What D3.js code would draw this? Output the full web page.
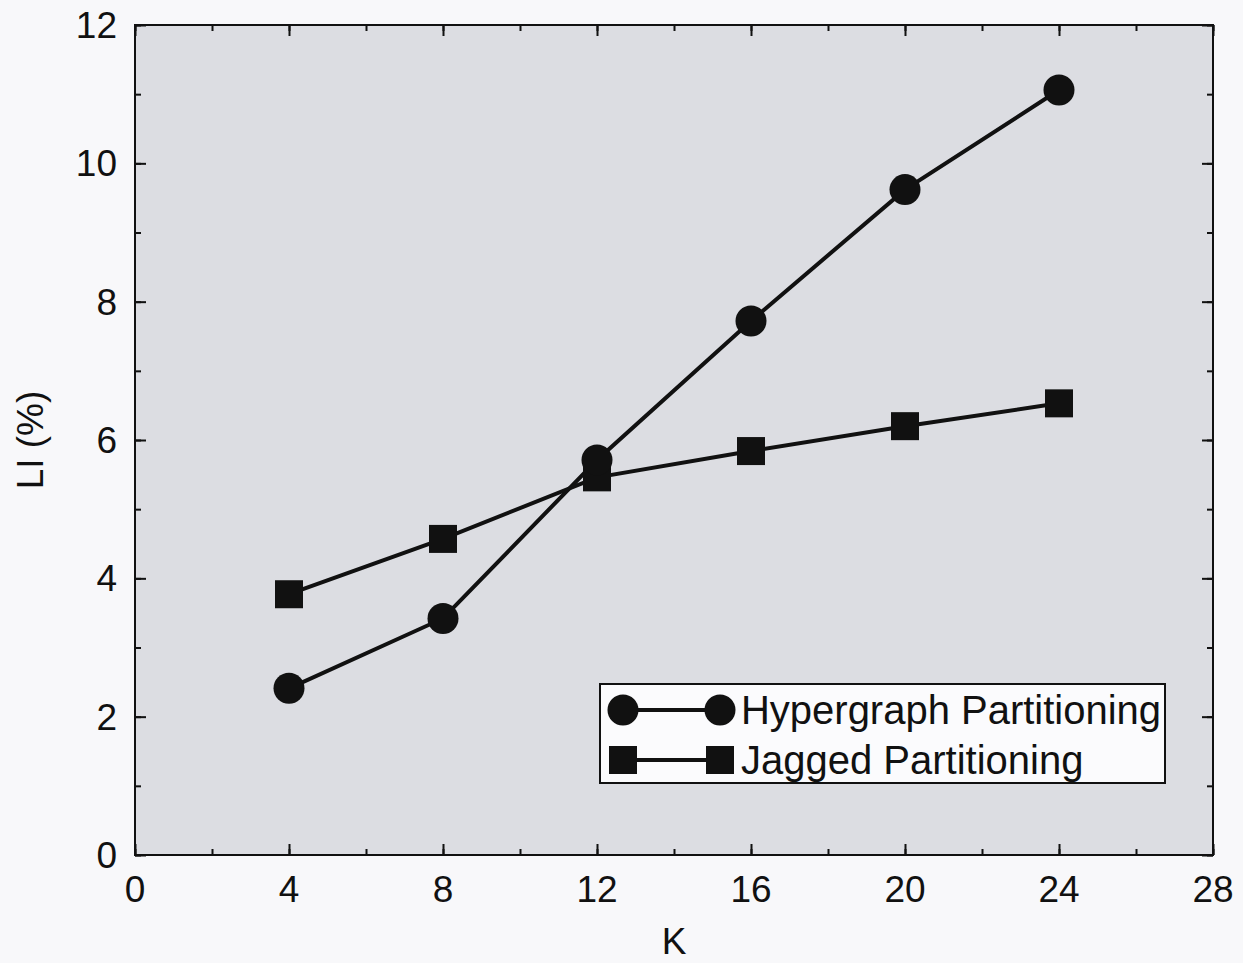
<!DOCTYPE html>
<html>
<head>
<meta charset="utf-8">
<script src="https://cdn.jsdelivr.net/npm/d3@7"></script>
<style>
  body { margin: 0; background: #f8f8fa; }
  text { font-family: "Liberation Sans", Arial, sans-serif; fill: #111; }
</style>
</head>
<body>
<div id="vis"></div>
<script>
const kValues = [4, 8, 12, 16, 20, 24]
const hypergraph = [2.41, 3.42, 5.71, 7.72, 9.62, 11.06]
const jagged = [3.77, 4.57, 5.46, 5.84, 6.20, 6.53]
const xTicks = [0, 4, 8, 12, 16, 20, 24, 28]
const yTicks = [0, 2, 4, 6, 8, 10, 12]
const seriesNames = ["Hypergraph Partitioning", "Jagged Partitioning"]

const margin = {top: 25, right: 30, bottom: 108, left: 135};
const W = 1243, H = 963;
const width = W - margin.left - margin.right;
const height = H - margin.top - margin.bottom;

const svg = d3.select('#vis')
    .append('svg')
    .attr('width', W)
    .attr('height', H)
    .append('g')
    .attr('transform', `translate(${margin.left},${margin.top})`);

const xScale = d3.scaleLinear().domain([0, 28]).range([0, width]);
const yScale = d3.scaleLinear().domain([0, 12]).range([height, 0]);

// plot background (scanned grey)
svg.append("rect")
    .attr("width", width)
    .attr("height", height)
    .attr("fill", "#dcdde2");

// ticks, inward, on all four sides
function tickSet(axisFn, scale, vals, size, transform) {
    svg.append("g")
        .attr("transform", transform)
        .call(axisFn(scale).tickValues(vals).tickSize(size).tickFormat(""))
        .call(g => g.select(".domain").remove())
        .selectAll("line").attr("stroke", "#111").attr("stroke-width", 2);
}
const xMinor = d3.range(0, 29, 2), yMinor = d3.range(0, 13, 1);
tickSet(d3.axisBottom, xScale, xTicks, -11, `translate(0,${height})`);
tickSet(d3.axisBottom, xScale, xMinor, -6, `translate(0,${height})`);
tickSet(d3.axisTop, xScale, xTicks, -11, `translate(0,0)`);
tickSet(d3.axisTop, xScale, xMinor, -6, `translate(0,0)`);
tickSet(d3.axisLeft, yScale, yTicks, -11, `translate(0,0)`);
tickSet(d3.axisLeft, yScale, yMinor, -6, `translate(0,0)`);
tickSet(d3.axisRight, yScale, yTicks, -11, `translate(${width},0)`);
tickSet(d3.axisRight, yScale, yMinor, -6, `translate(${width},0)`);

// frame
svg.append("rect")
    .attr("width", width)
    .attr("height", height)
    .attr("fill", "none")
    .attr("stroke", "#111")
    .attr("stroke-width", 2);

// tick labels
svg.selectAll(".xlab")
    .data(xTicks)
    .join("text")
    .attr("class", "xlab")
    .attr("x", d => xScale(d))
    .attr("y", height + 47)
    .attr("text-anchor", "middle")
    .style("font-size", "37px")
    .text(d => d);

svg.selectAll(".ylab")
    .data(yTicks)
    .join("text")
    .attr("class", "ylab")
    .attr("x", -18)
    .attr("y", d => yScale(d) + 13)
    .attr("text-anchor", "end")
    .style("font-size", "37px")
    .text(d => d);

// axis titles
svg.append("text")
    .attr("x", width / 2)
    .attr("y", height + 99)
    .attr("text-anchor", "middle")
    .style("font-size", "37px")
    .text("K");

svg.append("text")
    .attr("transform", "rotate(-90)")
    .attr("x", -(440 - margin.top))
    .attr("y", -92)
    .attr("text-anchor", "middle")
    .style("font-size", "37px")
    .text("LI (%)");

// lines
const lineGen = d3.line()
    .x(d => xScale(d.k))
    .y(d => yScale(d.v));

const hyperData = kValues.map((k, i) => ({k, v: hypergraph[i]}));
const jaggedData = kValues.map((k, i) => ({k, v: jagged[i]}));

[hyperData, jaggedData].forEach(data => {
    svg.append("path")
        .datum(data)
        .attr("fill", "none")
        .attr("stroke", "#111")
        .attr("stroke-width", 4)
        .attr("d", lineGen);
});

svg.selectAll(".sq")
    .data(jaggedData)
    .join("rect")
    .attr("class", "sq")
    .attr("x", d => xScale(d.k) - 14)
    .attr("y", d => yScale(d.v) - 14)
    .attr("width", 28)
    .attr("height", 28)
    .attr("fill", "#111");

svg.selectAll(".dot")
    .data(hyperData)
    .join("circle")
    .attr("class", "dot")
    .attr("cx", d => xScale(d.k))
    .attr("cy", d => yScale(d.v))
    .attr("r", 15.5)
    .attr("fill", "#111");

// legend
const legend = svg.append("g")
    .attr("transform", `translate(${600 - margin.left}, ${684 - margin.top})`);

legend.append("rect")
    .attr("width", 565)
    .attr("height", 99)
    .attr("fill", "#fbfbfd")
    .attr("stroke", "#111")
    .attr("stroke-width", 2);

seriesNames.forEach((name, i) => {
    const row = legend.append("g").attr("transform", `translate(0, ${26 + i * 50})`);
    row.append("line")
        .attr("x1", 23).attr("x2", 120)
        .attr("stroke", "#111").attr("stroke-width", 4);
    [23, 120].forEach(cx => {
        if (i === 0) {
            row.append("circle").attr("cx", cx).attr("r", 15.5).attr("fill", "#111");
        } else {
            row.append("rect").attr("x", cx - 14).attr("y", -14)
                .attr("width", 28).attr("height", 28).attr("fill", "#111");
        }
    });
    row.append("text")
        .attr("x", 141)
        .attr("y", 14)
        .attr("textLength", i === 0 ? 420 : null)
        .style("font-size", "40px")
        .text(name);
});
</script>
</body>
</html>
